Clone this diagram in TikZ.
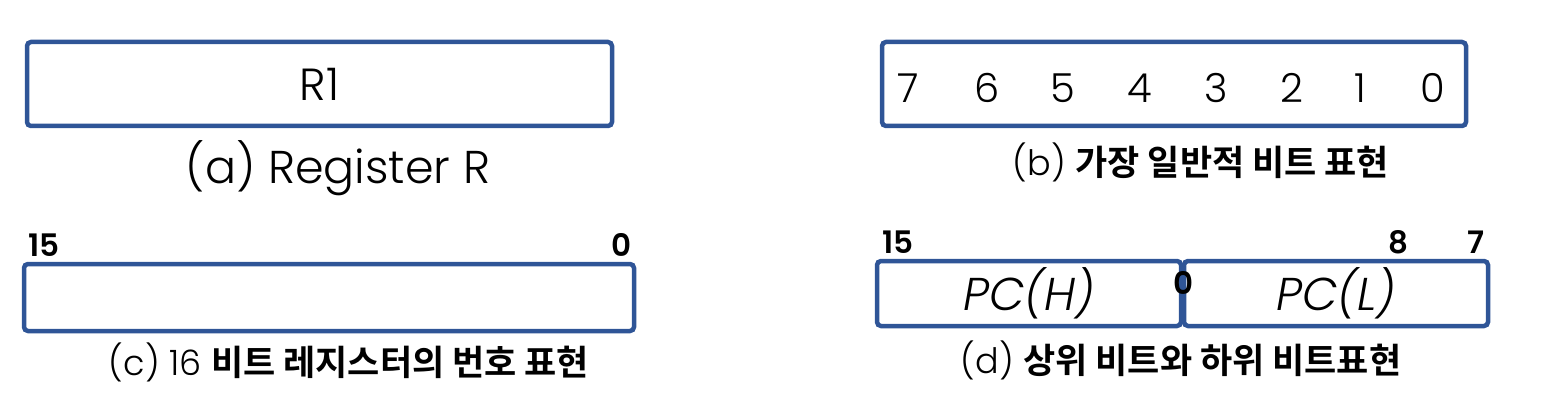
\documentclass[tikz,border=0pt]{standalone}
\usepackage{fontspec}
\setmainfont{Poppins Light}
\newfontfamily\bitfont{Poppins SemiBold}
\newfontfamily\krfont{Noto Sans CJK KR Bold}
\definecolor{regblue}{HTML}{2F5597}
\begin{document}
\begin{tikzpicture}[x=1pt,y=-1pt,
	reg/.style={draw=regblue,line width=4.5pt,rounded corners=4pt,inner sep=0pt},
	big/.style={font=\fontsize{40}{40}\selectfont},
	captext/.style={font=\fontsize{35}{35}\selectfont},
	bitno/.style={font=\bitfont\fontsize{31}{31}\selectfont}]
	\useasboundingbox (0,0) rectangle (1565,414);
	% (a) register R
	\node [reg,minimum width=585pt,minimum height=84pt] (ra) at (319.5,84) {};
	\node [big,font=\fontsize{45}{45}\selectfont] (r1) at (ra.center) {R1};
	\node [big,font=\fontsize{46}{46}\selectfont] (capa) at (338,168) {(a) Register R};
	% (b) bit numbers
	\node [reg,minimum width=584pt,minimum height=84pt] (rb) at (1174,84) {};
	\foreach \d/\x in {7/908,6/987,5/1063,4/1140,3/1216,2/1292,1/1360,0/1433}
		\node [big] (b\d) at (\x,88) {\d};
	\node [captext] (capb) at (1201,162) {(b) {\krfont 가장 일반적 비트 표현}};
	% (c) 16 bit register
	\node [reg,minimum width=610pt,minimum height=67pt] (rc) at (329,297.5) {};
	\node [bitno] (c15) at (44,245) {15};
	\node [bitno] (c0) at (622,245) {0};
	\node [captext] (capc) at (349,362) {(c) 16 {\krfont 비트 레지스터의 번호 표현}};
	% (d) high and low byte
	\node [reg,minimum width=304pt,minimum height=65pt] (dh) at (1029,293.5) {};
	\node [reg,minimum width=304pt,minimum height=65pt] (dl) at (1336,293.5) {};
	\node [big,font=\fontsize{46}{46}\selectfont] at (dh.center) {\itshape PC(H)};
	\node [big,font=\fontsize{46}{46}\selectfont] at (dl.center) {\itshape PC(L)};
	\node [bitno] (d15) at (898,242) {15};
	\node [bitno] (d8) at (1398,242) {8};
	\node [bitno] (d7) at (1476,242) {7};
	\node [bitno] (d0) at (1183,283) {0};
	\node [captext] (capd) at (1181,360) {(d) {\krfont 상위 비트와 하위 비트표현}};
\end{tikzpicture}
\end{document}
